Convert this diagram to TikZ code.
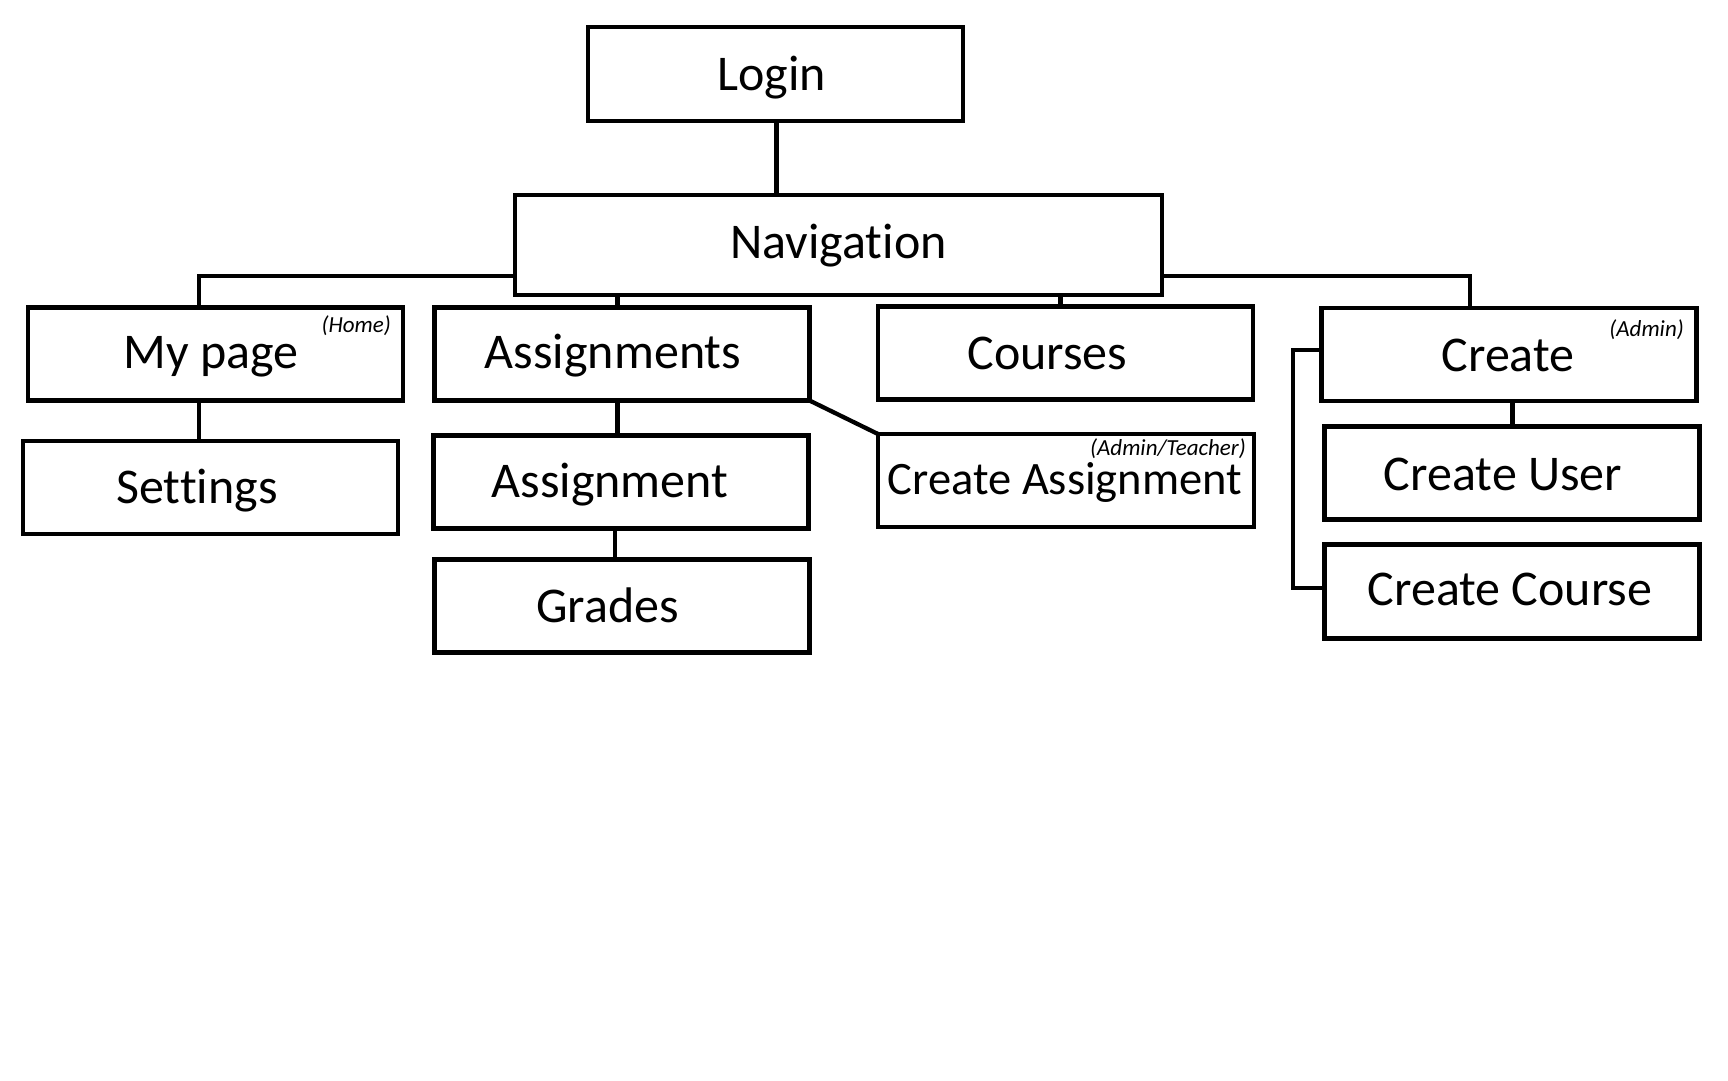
\documentclass[tikz,border=0pt]{standalone}
\usepackage{fontspec}
\setmainfont{Carlito}[Ligatures=NoCommon]
\begin{document}
\begin{tikzpicture}[x=1pt,y=-1pt,
  box/.style={draw=black, line width=4.3pt, fill=none, inner sep=0pt, outer sep=0pt,
              minimum width=375pt, minimum height=93pt},
  lbl/.style={inner sep=0pt, anchor=base, font=\fontsize{50}{60}\selectfont},
  note/.style={inner sep=0pt, anchor=base east, font=\fontsize{23}{27}\selectfont\itshape},
  link/.style={line width=4.3pt, line cap=butt}]
\useasboundingbox (0,0) rectangle (1728,1080);
\fill[white] (0,0) rectangle (1728,1080);

% boxes
\node[box, minimum height=94pt] (login) at (775.5,74) {};
\node[box, minimum width=647pt, minimum height=100pt] (nav) at (838.5,245) {};
\node[box] (mypage) at (215.5,354) {};
\node[box] (settings) at (210.5,487.5) {};
\node[box] (assignments) at (622,354) {};
\node[box] (assignment) at (621,482) {};
\node[box] (grades) at (622,606) {};
\node[box] (courses) at (1065.5,353) {};
\node[box, minimum width=376pt] (createasg) at (1066,480.5) {};
\node[box] (create) at (1509,354.5) {};
\node[box] (createuser) at (1512,473) {};
\node[box, minimum height=94pt] (createcourse) at (1512,591.5) {};

% labels
\node[lbl] (tlogin) at (771.5,90) {Login};
\node[lbl] (tnav) at (838.5,258) {Navigation};
\node[lbl] (tmypage) at (211,368) {My page};
\node[note] (thome) at (391,332) {(Home)};
\node[lbl] (tsettings) at (197,503) {Settings};
\node[lbl] (tassignments) at (613,368) {Assignments};
\node[lbl] (tassignment) at (610,497) {Assignment};
\node[lbl] (tgrades) at (607.5,622) {Grades};
\node[lbl] (tcourses) at (1047.5,369) {Courses};
\node[note] (tteacher) at (1246,455) {(Admin/Teacher)};
\node[lbl, font=\fontsize{46.5}{56}\selectfont] (tcreateasg) at (1065,494.5) {Create Assignment};
\node[lbl] (tcreate) at (1508,371) {Create};
\node[note] (tadmin) at (1684,336) {(Admin)};
\node[lbl] (tcreateuser) at (1503,490) {Create User};
\node[lbl] (tcreatecourse) at (1510,605) {Create Course};

% connector positions
\coordinate (lbr) at (199,276);
\coordinate (rbr) at (1470,276);
\coordinate (lstub) at (776.5,0);
\coordinate (astub) at (617.5,0);
\coordinate (cstub) at (1060.5,0);
\coordinate (sub1) at (615,0);
\coordinate (cu) at (1512.5,0);
\coordinate (brk) at (1293,350);
\coordinate (brk2) at (1293,588);

% connectors
\draw[link] (login.south -| lstub) -- (nav.north -| lstub);
\draw[link] (nav.west |- lbr) -| (mypage.north -| lbr);
\draw[link] (nav.east |- rbr) -| (create.north -| rbr);
\draw[link] (nav.south -| astub) -- (assignments.north -| astub);
\draw[link] (nav.south -| cstub) -- (courses.north -| cstub);
\draw[link] (mypage.south -| lbr) -- (settings.north -| lbr);
\draw[link] (assignments.south -| astub) -- (assignment.north -| astub);
\draw[link] (assignment.south -| sub1) -- (grades.north -| sub1);
\draw[link] (assignments.south east) -- (createasg.north west);
\draw[link] (create.south -| cu) -- (createuser.north -| cu);
\draw[link, line join=miter] (create.west |- brk) -- (brk) -- (brk2) -- (createcourse.west |- brk2);
\end{tikzpicture}
\end{document}
